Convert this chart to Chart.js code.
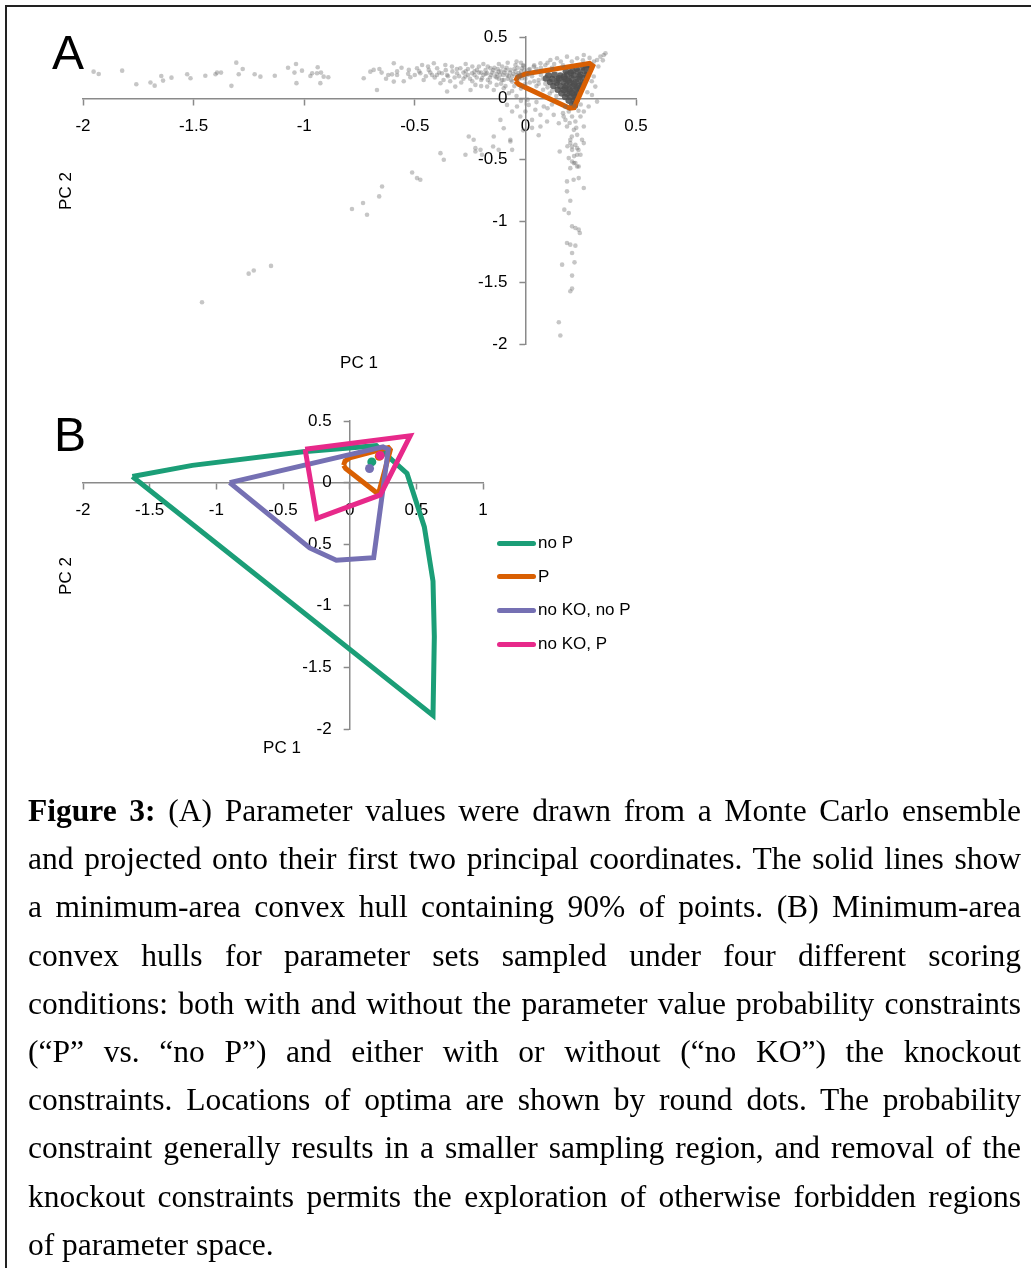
<!DOCTYPE html>
<html>
<head>
<meta charset="utf-8">
<title>Figure 3</title>
<script src="https://cdn.jsdelivr.net/npm/chart.js@4/dist/chart.umd.min.js"></script>
<style>
  html, body { margin: 0; padding: 0; background: #fff; }
  body { width: 1031px; height: 1268px; position: relative; overflow: hidden;
         font-family: "Liberation Sans", Arial, sans-serif; color: #000; }
  .frame { position: absolute; left: 5px; top: 5px; width: 1200px; height: 1400px;
           border-left: 2px solid #222; border-top: 2px solid #222; }
  canvas.panel { position: absolute; left: 0; }
  .tag { position: absolute; font-size: 48px; line-height: 48px; }
  .atitle { position: absolute; font-size: 17px; line-height: 20px; white-space: nowrap;
            transform: translate(-50%, -50%); }
  .atitle.v { transform: translate(-50%, -50%) rotate(-90deg); }
  #legendB { position: absolute; left: 497px; top: 533px; width: 200px; height: 140px; }
  #legendB .row { position: absolute; left: 0; height: 20px; line-height: 20px; font-size: 17px;
                  display: flex; align-items: center; white-space: nowrap; }
  #legendB .sw { display: inline-block; width: 39px; height: 5px; border-radius: 2.5px; margin-right: 2px; }
  .caption { position: absolute; left: 28px; top: 787px; width: 993px;
             font-family: "Liberation Serif", "Times New Roman", serif; font-size: 31.5px; line-height: 48.2px; }
  .caption div { text-align: justify; text-align-last: justify; }
  .caption div.end { text-align-last: left; }
</style>
</head>
<body>
<div class="frame"></div>

<canvas id="chartA" class="panel" width="700" height="400" style="top:0;width:700px;height:400px"></canvas>
<canvas id="chartB" class="panel" width="700" height="400" style="top:390px;width:700px;height:400px"></canvas>

<div class="tag" style="left:52px;top:29px">A</div>
<div class="tag" style="left:54px;top:411px">B</div>

<div class="atitle v" style="left:66px;top:191px">PC 2</div>
<div class="atitle" style="left:359px;top:363px">PC 1</div>
<div class="atitle v" style="left:66px;top:576px">PC 2</div>
<div class="atitle" style="left:282px;top:748px">PC 1</div>

<div id="legendB"></div>

<div class="caption">
  <div><b>Figure 3:</b> (A) Parameter values were drawn from a Monte Carlo ensemble</div>
  <div>and projected onto their first two principal coordinates. The solid lines show</div>
  <div>a minimum-area convex hull containing 90% of points. (B) Minimum-area</div>
  <div>convex hulls for parameter sets sampled under four different scoring</div>
  <div>conditions: both with and without the parameter value probability constraints</div>
  <div>(“P” vs. “no P”) and either with or without (“no KO”) the knockout</div>
  <div>constraints. Locations of optima are shown by round dots. The probability</div>
  <div>constraint generally results in a smaller sampling region, and removal of the</div>
  <div>knockout constraints permits the exploration of otherwise forbidden regions</div>
  <div class="end">of parameter space.</div>
</div>

<script>
// ---------- Panel A: Monte Carlo ensemble projected on (PC 1, PC 2) ----------
const ensembleA = [
  // long tail along PC 1
  [-1.952,0.218],[-1.929,0.199],[-1.823,0.226],[-1.759,0.115],[-1.695,0.129],[-1.676,0.104],
  [-1.646,0.183],[-1.638,0.145],[-1.600,0.169],[-1.529,0.197],[-1.514,0.164],[-1.447,0.185],
  [-1.401,0.197],[-1.394,0.210],[-1.376,0.210],[-1.329,0.102],[-1.307,0.291],[-1.296,0.197],
  [-1.278,0.240],[-1.224,0.197],[-1.198,0.177],[-1.133,0.185],[-1.073,0.250],[-1.044,0.210],
  [-1.037,0.280],[-1.035,0.124],[-1.010,0.226],[-0.972,0.183],[-0.964,0.205],[-0.942,0.205],
  [-0.939,0.254],[-0.927,0.124],[-0.924,0.210],[-0.912,0.177],[-0.891,0.172],
  [-0.731,0.164],[-0.701,0.218],[-0.686,0.232],[-0.671,0.069],[-0.603,0.196],[-0.595,0.286],
  [-0.580,0.191],[-0.527,0.232],[-0.520,0.172],[-0.490,0.245],[-0.475,0.205],[-0.467,0.272],
  [-0.437,0.232],[-0.422,0.191],[-0.414,0.286],[-0.399,0.245],[-0.384,0.123],[-0.377,0.205],
  [-0.362,0.272],[-0.595,0.137],[-0.650,0.210],[-0.630,0.160],[-0.560,0.250],[-0.550,0.140],
  [-0.500,0.190],[-0.460,0.150],[-0.440,0.260],[-0.410,0.170],[-0.390,0.210],[-0.370,0.150],
  [-0.660,0.240],[-0.620,0.190],[-0.580,0.220],[-0.530,0.200],[-0.480,0.220],[-0.450,0.180],
  [-0.430,0.210],[-0.400,0.190],[-0.360,0.230],[-0.350,0.180],
  // cloud left of the origin
  [-0.354,0.191],[-0.332,0.259],[-0.309,0.205],[-0.294,0.245],[-0.271,0.178],[-0.241,0.205],
  [-0.219,0.232],[-0.196,0.164],[-0.173,0.205],[-0.158,0.245],[-0.136,0.178],[-0.121,0.218],
  [-0.105,0.259],[-0.098,0.150],[-0.083,0.191],[-0.068,0.232],[-0.060,0.137],[-0.045,0.272],
  [-0.030,0.205],[-0.015,0.245],[-0.015,0.164],[-0.354,0.056],[-0.317,0.096],[-0.248,0.069],
  [-0.226,0.110],[-0.173,0.096],[-0.143,0.069],[-0.098,0.083],[-0.075,0.042],
  [-0.330,0.220],[-0.300,0.180],[-0.280,0.210],[-0.260,0.240],[-0.250,0.160],[-0.230,0.190],
  [-0.210,0.260],[-0.200,0.210],[-0.190,0.190],[-0.180,0.230],[-0.160,0.170],[-0.150,0.210],
  [-0.140,0.250],[-0.130,0.200],[-0.120,0.160],[-0.110,0.220],[-0.100,0.190],[-0.090,0.230],
  [-0.080,0.160],[-0.070,0.210],[-0.060,0.180],[-0.050,0.240],[-0.040,0.190],[-0.030,0.160],
  [-0.020,0.220],[-0.010,0.270],[-0.110,0.120],[-0.050,0.100],[-0.160,0.130],[-0.190,0.280],
  [-0.270,0.280],[-0.230,0.220],
  [-0.340,0.140],[-0.320,0.170],[-0.310,0.240],[-0.290,0.130],[-0.270,0.220],[-0.260,0.190],
  [-0.240,0.260],[-0.240,0.140],[-0.220,0.170],[-0.210,0.210],[-0.200,0.150],[-0.180,0.200],
  [-0.170,0.260],[-0.170,0.150],[-0.155,0.190],[-0.145,0.230],[-0.130,0.170],[-0.125,0.240],
  [-0.115,0.190],[-0.105,0.150],[-0.095,0.210],[-0.085,0.250],[-0.075,0.180],[-0.065,0.150],
  [-0.055,0.200],[-0.045,0.220],[-0.035,0.250],[-0.025,0.190],[-0.020,0.290],[-0.005,0.230],
  [-0.130,0.110],[-0.090,0.100],[-0.200,0.100],[-0.280,0.160],[-0.060,0.060],[-0.020,0.080],
  [0.000,0.120],[-0.120,0.280],[-0.080,0.290],[-0.040,0.300],
  // below the PC 1 axis near the origin
  [-0.083,-0.053],[-0.060,-0.107],[-0.038,-0.066],[-0.023,-0.148],[0.000,-0.107],[0.015,-0.053],
  [0.030,-0.175],[0.045,-0.093],[0.068,-0.134],[0.083,-0.066],[-0.113,-0.175],[-0.098,-0.243],
  [-0.143,-0.310],[-0.121,-0.419],[-0.234,-0.337],[-0.256,-0.310],[-0.196,-0.459],[-0.068,-0.337],
  [-0.060,-0.419],[0.068,-0.229],[0.098,-0.188],[0.128,-0.134],[0.151,-0.202],[0.173,-0.148],
  [-0.020,-0.020],[0.010,-0.010],[-0.040,0.020],[0.050,-0.030],[0.100,-0.080],[0.120,-0.050],
  [0.030,-0.240],[0.060,-0.300],[-0.010,-0.260],
  // streak along PC 2
  [0.196,-0.107],[0.211,-0.148],[0.226,-0.188],[0.188,-0.229],[0.219,-0.256],[0.234,-0.297],
  [0.203,-0.337],[0.226,-0.378],[0.211,-0.419],[0.234,-0.459],[0.196,-0.486],[0.219,-0.527],
  [0.241,-0.554],[0.203,-0.568],[0.249,-0.148],[0.181,-0.175],[0.264,-0.229],[0.256,-0.337],
  [0.170,-0.120],[0.240,-0.100],[0.200,-0.200],[0.230,-0.240],[0.210,-0.310],[0.190,-0.390],
  [0.240,-0.420],[0.220,-0.470],[0.200,-0.030],[0.220,-0.060],[0.180,-0.070],[0.250,-0.050],
  [0.155,-0.432],[0.203,-0.364],[0.211,-0.392],[0.234,-0.405],[0.249,-0.459],[0.264,-0.364],
  [0.211,-0.514],[0.226,-0.527],[0.234,-0.554],[0.188,-0.676],[0.218,-0.663],[0.241,-0.649],
  [0.264,-0.730],[0.188,-0.757],[0.203,-0.833],[0.176,-0.906],[0.196,-0.934],[0.211,-1.042],
  [0.226,-1.055],[0.241,-1.069],[0.246,-1.096],[0.188,-1.177],[0.203,-1.191],[0.226,-1.199],
  [0.211,-1.259],[0.166,-1.354],[0.222,-1.335],[0.211,-1.443],[0.211,-1.549],[0.203,-1.571],
  [0.151,-1.823],[0.158,-1.931],
  // diagonal branch
  [-0.512,-0.603],[-0.490,-0.649],[-0.475,-0.663],[-0.648,-0.717],[-0.734,-0.852],[-0.661,-0.798],
  [-0.784,-0.901],[-0.716,-0.947],[-1.150,-1.364],[-1.228,-1.402],[-1.251,-1.427],[-1.462,-1.660],
  [-0.384,-0.446],[-0.369,-0.500],[-0.271,-0.459],[-0.226,-0.405],[-0.226,-0.432],[-0.203,-0.419],
  [-0.146,-0.392],[-0.068,-0.351],
  // right of and above the dense core
  [0.279,0.232],[0.309,0.178],[0.324,0.313],[0.339,0.340],[0.354,0.354],[0.362,0.367],
  [0.316,0.096],[0.301,0.028],[0.324,-0.026],[0.286,-0.066],[0.264,-0.107],[0.330,0.260],
  [0.310,0.300],[0.350,0.310],[0.290,0.330],[0.260,0.310],[0.300,0.140],[0.280,0.050],
  [0.113,0.313],[0.143,0.327],[0.188,0.340],[0.234,0.327],[0.264,0.354],[0.068,0.286],
  [0.038,0.259],[0.015,0.232],[-0.008,0.264],[0.050,0.240],[0.090,0.270],[0.160,0.300],
  [0.210,0.300],[0.120,0.250],[0.020,0.240],[0.040,0.270],[0.070,0.250],[0.100,0.290],
  [0.130,0.280],[0.170,0.270],
  // inside the hull, left part
  [0.000,0.160],[0.020,0.130],[0.030,0.180],[0.050,0.100],[0.060,0.150],[0.070,0.190],
  [0.080,0.070],[0.090,0.120],[0.100,0.170],[0.110,0.040],[0.120,0.100],[0.130,0.140],
  [0.140,0.200],[0.040,0.140],[0.010,0.190],[0.060,0.120],[0.080,0.160],[0.100,0.090],
  [0.120,0.060],[0.140,0.020]
];

// densest part of the ensemble
const coreA = [
  [0.262,0.252],[0.284,0.248],[0.275,0.262],[0.292,0.268],
  [0.183,0.221],[0.212,0.224],[0.238,0.218],[0.266,0.226],[0.281,0.214],
  [0.104,0.188],[0.131,0.193],[0.158,0.187],[0.189,0.195],[0.218,0.189],[0.249,0.192],[0.276,0.186],
  [0.093,0.162],[0.121,0.158],[0.152,0.164],[0.181,0.157],[0.209,0.163],[0.238,0.159],[0.266,0.165],
  [0.112,0.132],[0.141,0.128],[0.172,0.134],[0.201,0.127],[0.229,0.133],[0.258,0.129],
  [0.127,0.101],[0.158,0.098],[0.186,0.104],[0.214,0.097],[0.243,0.102],[0.256,0.112],
  [0.146,0.071],[0.173,0.068],[0.199,0.074],[0.226,0.069],[0.247,0.076],
  [0.163,0.041],[0.188,0.038],[0.212,0.044],[0.237,0.039],
  [0.180,0.012],[0.204,0.009],[0.229,0.014],
  [0.196,-0.018],[0.218,-0.021],[0.232,-0.012],
  [0.212,-0.048],[0.224,-0.058],
  [0.232,0.242],[0.205,0.208],[0.175,0.176],[0.145,0.146],[0.195,0.146],[0.245,0.176],
  [0.22,0.118],[0.18,0.086],[0.235,0.085],[0.2,0.056],[0.222,0.026]
];

// minimum-area hull of the "P" ensemble (shared by panels A and B)
const hullP = [
  [-0.045,0.140],[-0.035,0.175],[0.000,0.200],[0.290,0.285],[0.305,0.265],
  [0.220,-0.075],[0.200,-0.080],[-0.030,0.115],[-0.045,0.140]
];

// ---------- Panel B: hulls for the four scoring conditions ----------
const hullNoP = [
  [-1.630,0.050],[-1.180,0.140],[-0.350,0.250],[0.200,0.300],[0.300,0.200],[0.430,0.075],
  [0.560,-0.360],[0.625,-0.800],[0.635,-1.250],[0.625,-1.890],[-1.630,0.050]
];
const hullNoKONoP = [
  [-0.900,0.000],[0.250,0.290],[0.290,0.270],[0.180,-0.610],[-0.100,-0.630],[-0.300,-0.530],[-0.900,0.000]
];
const hullNoKOP = [
  [-0.334,0.270],[0.454,0.380],[0.230,-0.100],[-0.246,-0.290],[-0.334,0.270]
];

const seriesNames = ['no P', 'P', 'no KO, no P', 'no KO, P'];
const seriesHulls = [hullNoP, hullP, hullNoKONoP, hullNoKOP];
const seriesOptima = [[0.166,0.168],[0.222,0.214],[0.149,0.114],[0.229,0.220]];

// tick labels
const xTicksA = [-2, -1.5, -1, -0.5, 0, 0.5];
const yTicksA = [-2, -1.5, -1, -0.5, 0, 0.5];
const xTicksB = [-2, -1.5, -1, -0.5, 0, 0.5, 1];
const yTicksB = [-2, -1.5, -1, -0.5, 0, 0.5];

// ---------- styling ----------
const COLORS = ['#1b9e77', '#d95f02', '#7570b3', '#e7298a'];
const AXIS = '#8a8a8a';
const FONT = '"Liberation Sans", Arial, sans-serif';
Chart.defaults.font.family = FONT;
Chart.defaults.color = '#000';

const pts = arr => arr.map(([x, y]) => ({x, y}));

// axes cross at the origin; they take no layout room of their own.
// The x axis sits on y = 0; the y axis is a left axis moved onto x = 0 after layout.
function crossAxis(axis, min, max, ticks) {
  return {
    type: 'linear', min, max,
    position: axis === 'x' ? {y: 0} : 'left',
    afterFit: s => { if (axis === 'x') s.height = 0; else s.width = 0; },
    afterBuildTicks: s => { s.ticks = ticks.map(v => ({value: v})); },
    grid: {display: true, drawOnChartArea: false, drawTicks: true, tickLength: 6, tickColor: AXIS, tickWidth: 1.5},
    border: {display: true, color: AXIS, width: 1.5},
    ticks: {font: {size: 17}, color: '#000', padding: 12, autoSkip: false, maxRotation: 0,
            callback: v => String(v)}
  };
}

const Y_LABEL_ROOM = 80;
const yAtOrigin = {
  id: 'yAtOrigin',
  afterLayout(chart) {
    const xs = chart.scales.x, ys = chart.scales.y;
    const x0 = xs.getPixelForValue(0);
    ys.right = x0;
    ys.left = x0 - Y_LABEL_ROOM;
  }
};

// HTML legend listing the hull series
const htmlLegend = {
  id: 'htmlLegend',
  afterUpdate(chart, args, opts) {
    const box = document.getElementById(opts.containerID);
    if (!box) return;
    box.innerHTML = '';
    chart.data.datasets
      .filter(ds => ds.legendIndex !== undefined)
      .sort((a, b) => a.legendIndex - b.legendIndex)
      .forEach((ds, i) => {
        const row = document.createElement('div');
        row.className = 'row';
        row.style.top = (i * 33.7) + 'px';
        const sw = document.createElement('span');
        sw.className = 'sw';
        sw.style.background = ds.borderColor;
        row.appendChild(sw);
        row.appendChild(document.createTextNode(ds.label));
        box.appendChild(row);
      });
  }
};

// ---------- chart A ----------
new Chart(document.getElementById('chartA'), {
  type: 'scatter',
  data: {
    datasets: [
      {label: 'ensemble', data: pts(ensembleA), pointRadius: 2.3, pointBorderWidth: 0,
       backgroundColor: 'rgba(105,105,105,0.38)'},
      {label: 'P', data: pts(hullP), showLine: true, pointRadius: 0, borderWidth: 5,
       borderColor: COLORS[1], backgroundColor: COLORS[1], fill: false, tension: 0},
      {label: 'core', data: pts(coreA), pointRadius: 3.3, pointBorderWidth: 0,
       backgroundColor: 'rgba(78,78,78,0.85)'}
    ]
  },
  options: {
    responsive: false, animation: false, events: [],
    layout: {autoPadding: false, padding: {left: 83, top: 37, right: 64, bottom: 56}},
    plugins: {legend: {display: false}, tooltip: {enabled: false}},
    scales: {x: crossAxis('x', -2, 0.5, xTicksA), y: crossAxis('y', -2, 0.5, yTicksA)}
  },
  plugins: [yAtOrigin]
});

// ---------- chart B ----------
const dotSets = seriesOptima.map((p, i) => ({
  label: seriesNames[i] + ' optimum', data: pts([p]), pointRadius: 4.5, pointBorderWidth: 0,
  backgroundColor: COLORS[i], showLine: false
})).reverse();
const hullSets = seriesHulls.map((h, i) => ({
  label: seriesNames[i], legendIndex: i, data: pts(h), showLine: true, pointRadius: 0,
  borderWidth: 5, borderColor: COLORS[i], backgroundColor: COLORS[i], fill: false, tension: 0
})).reverse();

new Chart(document.getElementById('chartB'), {
  type: 'scatter',
  data: {datasets: [...dotSets, ...hullSets]},
  options: {
    responsive: false, animation: false, events: [],
    layout: {autoPadding: false, padding: {left: 83, top: 31, right: 217, bottom: 61}},
    plugins: {legend: {display: false}, tooltip: {enabled: false}, htmlLegend: {containerID: 'legendB'}},
    scales: {x: crossAxis('x', -2, 1, xTicksB), y: crossAxis('y', -2, 0.5, yTicksB)}
  },
  plugins: [yAtOrigin, htmlLegend]
});
</script>
</body>
</html>
